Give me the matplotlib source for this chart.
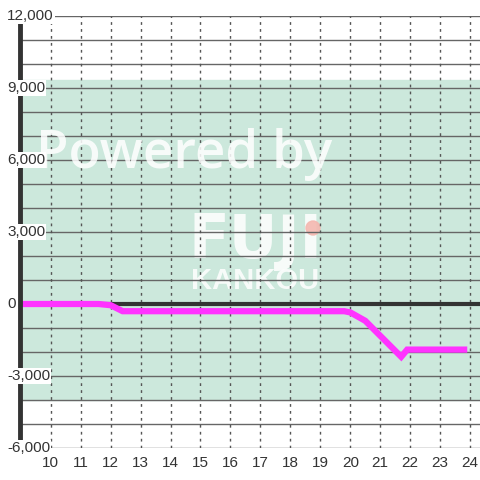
import matplotlib
matplotlib.use("Agg")
import matplotlib.pyplot as plt
from matplotlib.patches import Ellipse

hours = [9.0, 11.6, 12.0, 12.4, 19.8, 20.0, 20.5, 21.7, 21.9, 23.8]
values = [0, 0, -50, -300, -300, -350, -700, -2200, -1900, -1900]

x_ticks = list(range(10, 25))
y_ticks = [12000, 9000, 6000, 3000, 0, -3000, -6000]
y_labels = ["12,000", "9,000", "6,000", "3,000", "0", "-3,000", "-6,000"]

plt.rcParams["font.family"] = ["Liberation Sans", "DejaVu Sans"]

fig = plt.figure(figsize=(4.8, 4.8), dpi=100)
fig.patch.set_facecolor("white")
ax = fig.add_axes([20 / 480, 32 / 480, 460 / 480, 432 / 480])
ax.set_xlim(8.975, 24.33)
ax.set_ylim(-6000, 12000)

# band and grid
ax.axhspan(-4000, 9333, color="#cce8dc", zorder=0)
for v in range(-6000, 12001, 1000):
    ax.axhline(v, color="#666666", lw=1, zorder=1)
for h in x_ticks:
    ax.axvline(h, color="#555555", lw=1, ls=(0, (2, 3)), zorder=1)
ax.axhline(0, color="#333333", lw=3, zorder=2)

# watermark
ax.text(0.357, 0.68, "Powered by", transform=ax.transAxes, ha="center", va="center",
        fontsize=38, color="white", alpha=0.85, family="Open Sans", fontweight="semibold", zorder=3)
ax.text(0.512, 0.478, "FUJI", transform=ax.transAxes, ha="center", va="center",
        fontsize=43, color="white", alpha=0.85, family="DejaVu Sans", fontweight="bold", zorder=0.5)
ax.text(0.512, 0.386, "KANKOU", transform=ax.transAxes, ha="center", va="center",
        fontsize=21, color="white", alpha=0.85, fontweight="bold", zorder=0.5)
ax.add_patch(Ellipse(((313 - 20) / 460, 1 - (228 - 16) / 432), 14 / 460, 14 / 432,
                     transform=ax.transAxes, color="#f4b8b0", alpha=0.9, zorder=0.6))

ax.plot(hours, values, color="#ff33ff", lw=4.5, solid_joinstyle="miter", zorder=4)

for s in ["top", "right", "bottom"]:
    ax.spines[s].set_visible(False)
ax.spines["left"].set_linewidth(3.5)
ax.spines["left"].set_color("#333333")
ax.spines["left"].set_zorder(5)

ax.set_yticks([])
ax.set_xticks(x_ticks)
ax.set_xticklabels([str(h) for h in x_ticks], fontsize=11, color="#333333")
ax.tick_params(axis="x", length=0, pad=6)

for v, lab in zip(y_ticks, y_labels):
    ax.text(-13 / 460, v, lab, transform=ax.get_yaxis_transform(), ha="left", va="center",
            fontsize=11, color="#333333", zorder=6, clip_on=False,
            bbox=dict(boxstyle="square,pad=0.08", fc="white", ec="none"))

fig.savefig("out.png", dpi=100)
